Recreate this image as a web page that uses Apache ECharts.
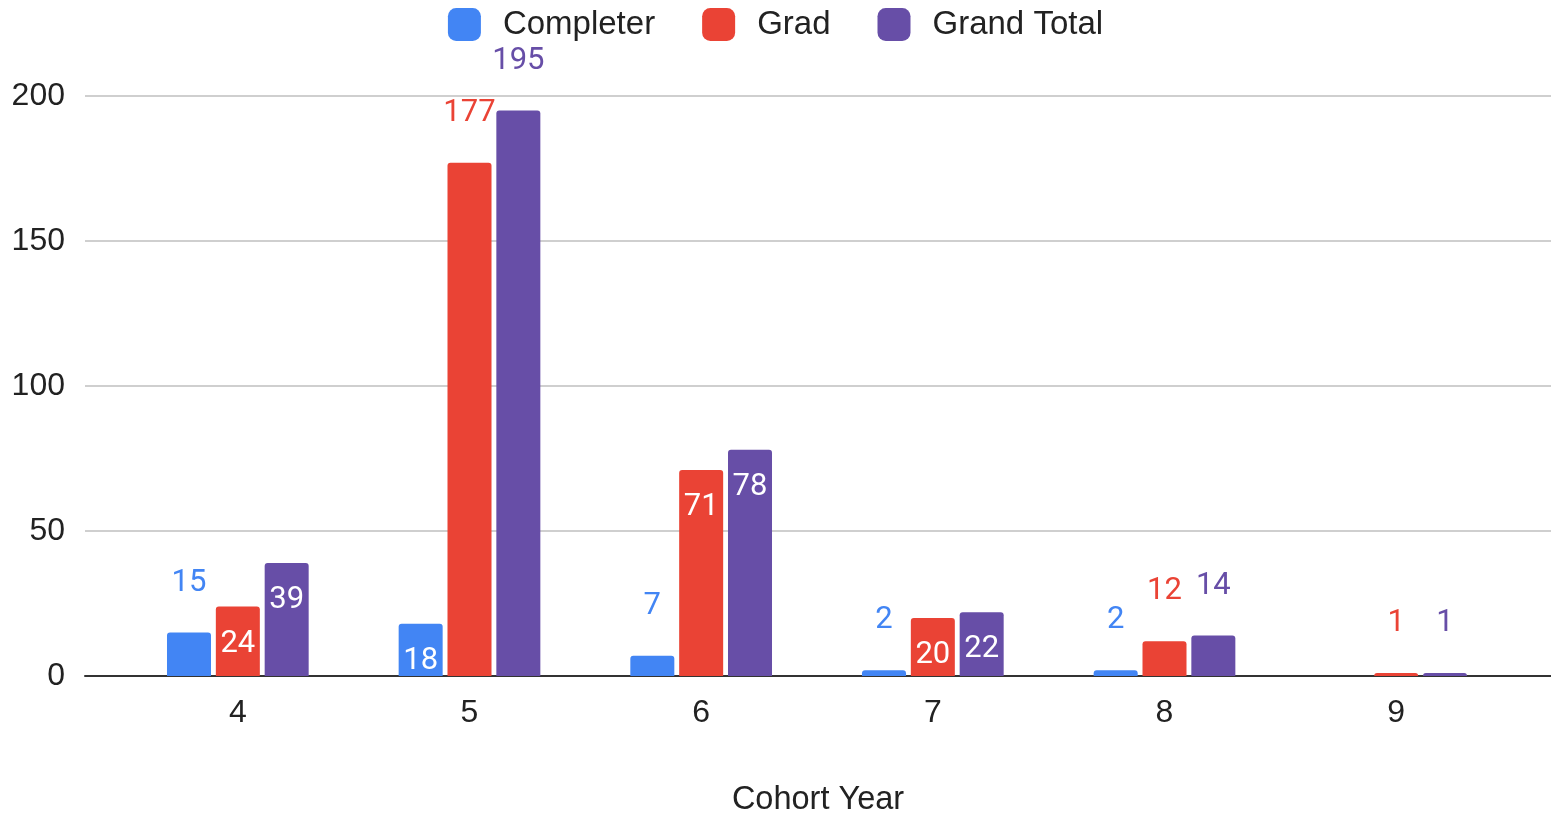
<!DOCTYPE html>
<html><head><meta charset="utf-8">
<script src="https://cdn.jsdelivr.net/npm/echarts@6/dist/echarts.min.js"></script>
<style>html,body{margin:0;padding:0;background:#fff}#c{width:1551px;height:815px}</style>
</head><body><div id="c"></div>
<script>
const categories = ['4','5','6','7','8','9'];
const completer = [15, 18, 7, 2, 2, 0];
const grad = [24, 177, 71, 20, 12, 1];
const grandTotal = [39, 195, 78, 22, 14, 1];
const yTicks = [0, 50, 100, 150, 200];
const seriesNames = ['Completer', 'Grad', 'Grand Total'];
const colors = ['#4285F4', '#EA4335', '#674EA7'];

const TOP = 96, BOTTOM = 139;
const axisFont = "'Liberation Sans', Arial, sans-serif";
const labelFont = "Roboto, sans-serif";

function makeData(vals, color) {
  return vals.map(v => {
    const inside = v >= 18 && v < 150;
    return {
      value: v,
      label: v === 0 ? { show: false } : (inside ? {
        show: true, position: 'insideTop', distance: 22, color: '#fff',
        fontFamily: labelFont, fontSize: 31
      } : {
        show: true, position: 'top', distance: 34, color: color,
        fontFamily: labelFont, fontSize: 31
      })
    };
  });
}

const chart = echarts.init(document.getElementById('c'), null, { renderer: 'canvas' });
chart.setOption({
  animation: false,
  color: colors,
  legend: {
    top: 3, left: 'center',
    itemWidth: 33, itemHeight: 33, itemGap: 47,
    icon: 'roundRect',
    textStyle: { fontFamily: axisFont, fontSize: 33, color: '#222', padding: [0, 0, 0, 17] },
    data: seriesNames
  },
  grid: [
    { left: 85, right: 0, top: TOP, bottom: BOTTOM, containLabel: false, outerBoundsMode: 'none' },
    { left: 122, right: 39, top: TOP, bottom: BOTTOM, containLabel: false, outerBoundsMode: 'none' }
  ],
  xAxis: [
    {
      gridIndex: 0, type: 'value', min: 0, max: 1,
      axisLine: { show: true, onZero: false, lineStyle: { color: '#333', width: 2 } },
      axisTick: { show: false }, axisLabel: { show: false }, splitLine: { show: false },
      name: 'Cohort Year', nameLocation: 'middle', nameGap: 108,
      nameTextStyle: { fontFamily: axisFont, fontSize: 32.5, color: '#222' }
    },
    {
      gridIndex: 1, type: 'category', data: categories,
      axisLine: { show: false }, axisTick: { show: false },
      axisLabel: { fontFamily: axisFont, fontSize: 32, color: '#222', margin: 21 }
    }
  ],
  yAxis: [
    {
      gridIndex: 0, type: 'value', min: yTicks[0], max: yTicks[yTicks.length - 1], interval: 50,
      axisLine: { show: false }, axisTick: { show: false },
      axisLabel: { fontFamily: axisFont, fontSize: 32, color: '#222', margin: 20 },
      splitLine: { lineStyle: { color: '#cfcfcf', width: 2 } }
    },
    {
      gridIndex: 1, type: 'value', min: yTicks[0], max: yTicks[yTicks.length - 1], interval: 50,
      show: false, splitLine: { show: false }
    }
  ],
  series: [completer, grad, grandTotal].map((vals, i) => ({
    name: seriesNames[i], type: 'bar', xAxisIndex: 1, yAxisIndex: 1,
    barWidth: 44, barGap: '11%',
    itemStyle: { color: colors[i], borderRadius: [3, 3, 0, 0] },
    data: makeData(vals, colors[i])
  }))
});
</script></body></html>
